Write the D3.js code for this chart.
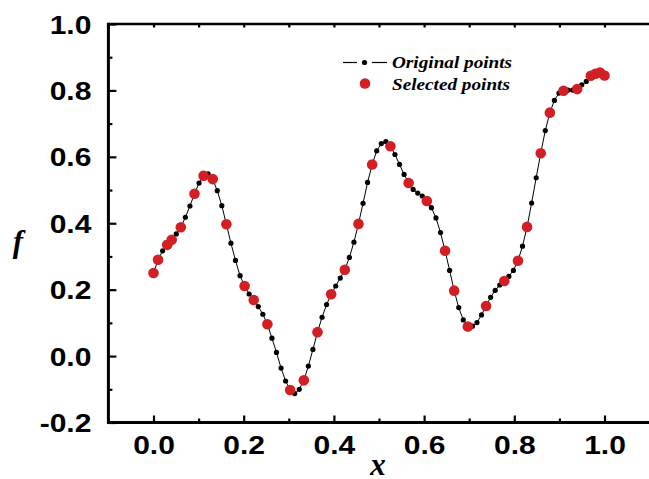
<!DOCTYPE html>
<html>
<head>
<meta charset="utf-8">
<script src="https://cdn.jsdelivr.net/npm/d3@7"></script>
<style>
  html, body { margin: 0; padding: 0; background: #fff; }
  svg { display: block; }
</style>
</head>
<body>
<svg id="chart" width="649" height="479"></svg>
<script>
// x positions of the original samples (100 evenly spaced points on [0, 1])
const xOriginal = [
  0.0000, 0.0101, 0.0202, 0.0303, 0.0404, 0.0505, 0.0606, 0.0707, 0.0808, 0.0909,
  0.1010, 0.1111, 0.1212, 0.1313, 0.1414, 0.1515, 0.1616, 0.1717, 0.1818, 0.1919,
  0.2020, 0.2121, 0.2222, 0.2323, 0.2424, 0.2525, 0.2626, 0.2727, 0.2828, 0.2929,
  0.3030, 0.3131, 0.3232, 0.3333, 0.3434, 0.3535, 0.3636, 0.3737, 0.3838, 0.3939,
  0.4040, 0.4141, 0.4242, 0.4343, 0.4444, 0.4545, 0.4646, 0.4747, 0.4848, 0.4949,
  0.5051, 0.5152, 0.5253, 0.5354, 0.5455, 0.5556, 0.5657, 0.5758, 0.5859, 0.5960,
  0.6061, 0.6162, 0.6263, 0.6364, 0.6465, 0.6566, 0.6667, 0.6768, 0.6869, 0.6970,
  0.7071, 0.7172, 0.7273, 0.7374, 0.7475, 0.7576, 0.7677, 0.7778, 0.7879, 0.7980,
  0.8081, 0.8182, 0.8283, 0.8384, 0.8485, 0.8586, 0.8687, 0.8788, 0.8889, 0.8990,
  0.9091, 0.9192, 0.9293, 0.9394, 0.9495, 0.9596, 0.9697, 0.9798, 0.9899, 1.0000
];

// f values of the original samples
const fOriginal = [
  0.250, 0.290, 0.317, 0.335, 0.350, 0.368, 0.388, 0.418, 0.452, 0.489,
  0.521, 0.543, 0.549, 0.533, 0.498, 0.453, 0.397, 0.340, 0.288, 0.242,
  0.211, 0.187, 0.169, 0.149, 0.126, 0.096, 0.054, 0.011, -0.036, -0.075,
  -0.102, -0.113, -0.100, -0.073, -0.030, 0.020, 0.072, 0.117, 0.155, 0.186,
  0.211, 0.235, 0.260, 0.297, 0.343, 0.398, 0.460, 0.523, 0.577, 0.618,
  0.640, 0.646, 0.632, 0.607, 0.577, 0.547, 0.521, 0.502, 0.491, 0.482,
  0.467, 0.447, 0.416, 0.372, 0.317, 0.258, 0.197, 0.146, 0.109, 0.089,
  0.090, 0.101, 0.124, 0.151, 0.177, 0.198, 0.214, 0.226, 0.240, 0.258,
  0.287, 0.331, 0.389, 0.461, 0.537, 0.611, 0.679, 0.733, 0.770, 0.792,
  0.799, 0.801, 0.801, 0.804, 0.817, 0.827, 0.844, 0.850, 0.854, 0.845
];

// indices of the samples that were selected
const selectedIndex = [
  0, 1, 3, 4, 6, 9, 11, 13, 16, 20, 22, 25, 30, 33, 36, 39, 42, 45, 48,
  52, 56, 60, 64, 66, 69, 73, 77, 80, 82, 85, 87, 90, 93, 96, 97, 98, 99
];

const xTicks = [0.0, 0.2, 0.4, 0.6, 0.8, 1.0];
const xMinorTicks = [-0.1, 0.1, 0.3, 0.5, 0.7, 0.9];
const yTicks = [-0.2, 0.0, 0.2, 0.4, 0.6, 0.8, 1.0];
const yMinorTicks = [-0.1, 0.1, 0.3, 0.5, 0.7, 0.9];
const legendLabels = ["Original points", "Selected points"];

const svg = d3.select("#chart");
const plotLeft = 108.4, plotRight = 649.6, plotTop = 24, plotBottom = 422.5;

const x = d3.scaleLinear().domain([-0.1, 1.1]).range([plotLeft, plotRight]);
const y = d3.scaleLinear().domain([-0.2, 1.0]).range([plotBottom, plotTop]);

const RED = "#d11f24";
const tickFont = "'Liberation Sans', Arial, sans-serif";
const serif = "'Liberation Serif', 'Times New Roman', serif";
// one decimal, plain hyphen for negatives
const fmt = d => d3.format(".1f")(d).replace("\u2212", "-");

// horizontally widen a text element by factor k
function widen(sel, k) {
  sel.each(function () {
    const len = this.getComputedTextLength();
    d3.select(this).attr("textLength", len * k).attr("lengthAdjust", "spacingAndGlyphs");
  });
}

// ---- data ----
const original = xOriginal.map((v, i) => ({ x: v, f: fOriginal[i] }));
const selected = selectedIndex.map(i => original[i]);

svg.append("path")
  .datum(original)
  .attr("fill", "none")
  .attr("stroke", "#000")
  .attr("stroke-width", 1)
  .attr("d", d3.line().x(d => x(d.x)).y(d => y(d.f)));

svg.append("g").selectAll("circle")
  .data(original).join("circle")
  .attr("cx", d => x(d.x)).attr("cy", d => y(d.f))
  .attr("r", 2.6).attr("fill", "#000");

svg.append("g").selectAll("circle")
  .data(selected).join("circle")
  .attr("cx", d => x(d.x)).attr("cy", d => y(d.f))
  .attr("r", 5.3).attr("fill", RED);

// ---- axes (ticks point inward) ----
const bottomAxis = svg.append("g").attr("transform", `translate(0,${plotBottom})`)
  .call(d3.axisBottom(x).tickValues(xTicks).tickSize(-7).tickPadding(14).tickFormat(fmt));
svg.append("g").attr("transform", `translate(0,${plotBottom})`)
  .call(d3.axisBottom(x).tickValues(xMinorTicks).tickSize(-4).tickFormat(""))
  .call(g => g.select(".domain").remove());

const leftAxis = svg.append("g").attr("transform", `translate(${plotLeft},0)`)
  .call(d3.axisLeft(y).tickValues(yTicks).tickSize(-8).tickPadding(17).tickFormat(fmt));
svg.append("g").attr("transform", `translate(${plotLeft},0)`)
  .call(d3.axisLeft(y).tickValues(yMinorTicks).tickSize(-4).tickFormat(""))
  .call(g => g.select(".domain").remove());

const topAxis = svg.append("g").attr("transform", `translate(0,${plotTop})`)
  .call(d3.axisTop(x).tickValues(xTicks.concat(xMinorTicks)).tickSize(-3.5).tickFormat(""));

bottomAxis.select(".domain").attr("d", `M${plotLeft},0H${plotRight}`).attr("stroke-width", 3);
leftAxis.select(".domain").attr("d", `M0,${plotBottom + 1.5}V${plotTop - 1.3}`).attr("stroke-width", 3);
topAxis.select(".domain").attr("d", `M${plotLeft},0H${plotRight}`).attr("stroke-width", 2.6);
svg.selectAll(".domain").attr("stroke", "#000");
svg.selectAll(".tick line").attr("stroke", "#000").attr("stroke-width", 2.2);

const tickText = svg.selectAll(".tick text")
  .attr("font-family", tickFont)
  .attr("font-weight", "bold")
  .attr("font-size", 25)
  .attr("fill", "#000");
bottomAxis.selectAll(".tick text").attr("dy", "0.71em");
leftAxis.selectAll(".tick text").attr("dy", "0.36em");
widen(tickText, 1.2);

// ---- axis titles ----
svg.append("text")
  .attr("x", 378).attr("y", 475)
  .attr("text-anchor", "middle")
  .attr("font-family", serif).attr("font-style", "italic").attr("font-weight", "bold")
  .attr("font-size", 31).attr("fill", "#000")
  .text("x");

svg.append("text")
  .attr("x", 18).attr("y", 252)
  .attr("text-anchor", "middle")
  .attr("font-family", serif).attr("font-style", "italic").attr("font-weight", "bold")
  .attr("font-size", 31).attr("fill", "#000")
  .text("f");

// ---- legend ----
const legend = svg.append("g");
legend.selectAll("line")
  .data([[343, 357], [372, 387]]).join("line")
  .attr("x1", d => d[0]).attr("x2", d => d[1]).attr("y1", 62.5).attr("y2", 62.5)
  .attr("stroke", "#000").attr("stroke-width", 1.2);
legend.append("circle").attr("cx", 364.5).attr("cy", 62.5).attr("r", 2.6).attr("fill", "#000");
legend.append("circle").attr("cx", 365).attr("cy", 83.5).attr("r", 5.3).attr("fill", RED);

const legendText = legend.selectAll("text.lg")
  .data(legendLabels).join("text")
  .attr("class", "lg")
  .attr("x", 392).attr("y", (d, i) => i === 0 ? 67.5 : 89.5)
  .attr("font-family", serif).attr("font-style", "italic").attr("font-weight", "bold")
  .attr("font-size", 17).attr("fill", "#000")
  .text(d => d);
widen(legendText, 1.13);
</script>
</body>
</html>
